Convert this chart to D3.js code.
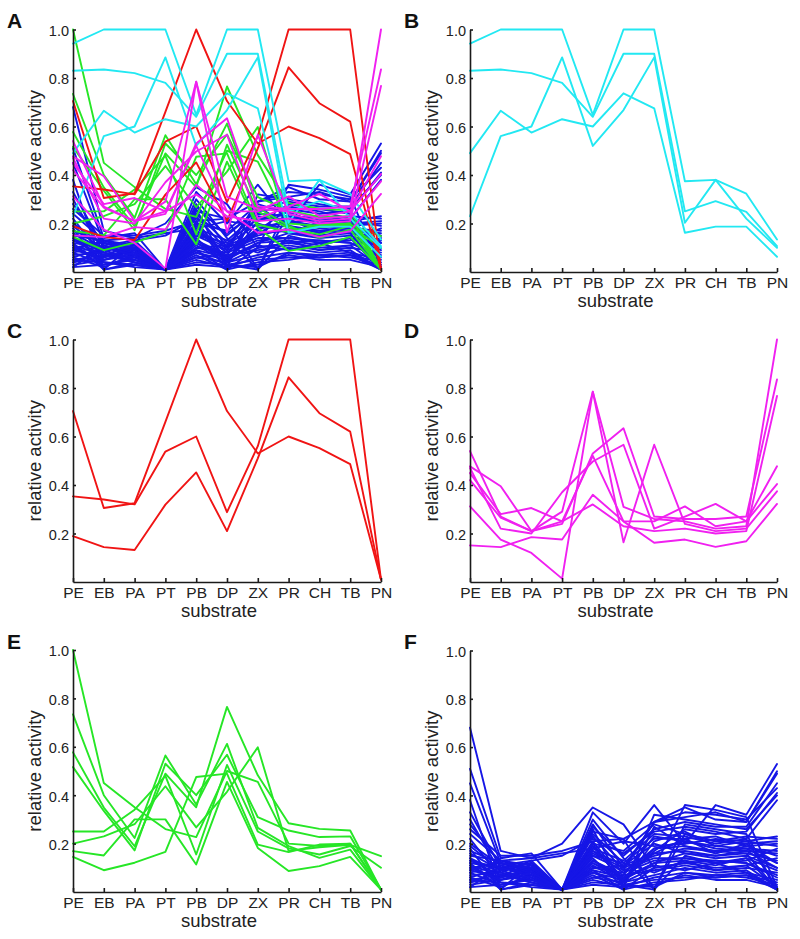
<!DOCTYPE html>
<html>
<head>
<meta charset="utf-8">
<script src="https://cdn.jsdelivr.net/npm/d3@7"></script>
<style>
  body { margin: 0; background: #fff; }
  svg { display: block; }
</style>
</head>
<body>
<svg id="chart" width="800" height="939"></svg>
<script>
// ---------------- DATA ----------------
const substrates = ["PE","EB","PA","PT","PB","DP","ZX","PR","CH","TB","PN"];
const yTicks = [0.2, 0.4, 0.6, 0.8, 1.0];
const panelLabels = ["A","B","C","D","E","F"];
const yTitle = "relative activity";
const xTitle = "substrate";

// cyan cluster (panel B)
const cyanSeries = [
  [0.942, 1.0, 1.0, 1.0, 0.648, 1.0, 1.0, 0.374, 0.38, 0.323, 0.134],
  [0.83, 0.835, 0.82, 0.78, 0.64, 0.90, 0.90, 0.25, 0.292, 0.248, 0.107],
  [0.23, 0.56, 0.60, 0.885, 0.52, 0.668, 0.885, 0.203, 0.38, 0.22, 0.10],
  [0.49, 0.665, 0.575, 0.63, 0.60, 0.737, 0.675, 0.162, 0.187, 0.187, 0.063]
];

// red cluster (panel C)
const redSeries = [
  [0.705, 0.305, 0.325, 0.66, 1.0, 0.705, 0.53, 0.60, 0.552, 0.486, 0.01],
  [0.353, 0.34, 0.32, 0.538, 0.60, 0.288, 0.56, 1.0, 1.0, 1.0, 0.01],
  [0.189, 0.144, 0.132, 0.319, 0.452, 0.21, 0.51, 0.844, 0.696, 0.62, 0.01]
];

// magenta cluster (panel D)
const magentaSeries = [
  [0.54, 0.27, 0.21, 0.29, 0.785, 0.31, 0.26, 0.25, 0.22, 0.23, 1.0],
  [0.477, 0.395, 0.21, 0.24, 0.53, 0.634, 0.27, 0.26, 0.26, 0.27, 0.835],
  [0.449, 0.28, 0.305, 0.25, 0.32, 0.23, 0.21, 0.22, 0.20, 0.21, 0.767],
  [0.47, 0.22, 0.20, 0.37, 0.497, 0.566, 0.22, 0.27, 0.322, 0.25, 0.404],
  [0.42, 0.265, 0.21, 0.25, 0.52, 0.25, 0.25, 0.312, 0.23, 0.25, 0.477],
  [0.312, 0.175, 0.12, 0.014, 0.785, 0.164, 0.566, 0.24, 0.21, 0.22, 0.374],
  [0.151, 0.144, 0.185, 0.175, 0.36, 0.25, 0.162, 0.175, 0.145, 0.168, 0.322]
];

// green cluster (panel E)
const greenSeries = [
  [1.0, 0.45, 0.35, 0.26, 0.227, 0.50, 0.455, 0.20, 0.19, 0.20, 0.01],
  [0.734, 0.40, 0.223, 0.564, 0.362, 0.612, 0.265, 0.19, 0.141, 0.175, 0.01],
  [0.577, 0.349, 0.189, 0.489, 0.35, 0.765, 0.482, 0.284, 0.261, 0.254, 0.01],
  [0.516, 0.335, 0.172, 0.53, 0.40, 0.567, 0.309, 0.254, 0.227, 0.23, 0.01],
  [0.25, 0.25, 0.34, 0.48, 0.155, 0.525, 0.25, 0.18, 0.155, 0.19, 0.10],
  [0.20, 0.23, 0.28, 0.437, 0.267, 0.414, 0.598, 0.17, 0.185, 0.195, 0.148],
  [0.145, 0.09, 0.121, 0.166, 0.475, 0.489, 0.196, 0.165, 0.196, 0.20, 0.01],
  [0.169, 0.151, 0.30, 0.30, 0.114, 0.455, 0.182, 0.087, 0.107, 0.145, 0.01]
];

// blue cluster (panel F)
const blueSeries = [
  [0.68, 0.17, 0.14, 0.20, 0.35, 0.28, 0.10, 0.36, 0.34, 0.31, 0.02],
  [0.51, 0.14, 0.16, 0.01, 0.33, 0.20, 0.36, 0.20, 0.36, 0.32, 0.53],
  [0.45, 0.12, 0.10, 0.01, 0.28, 0.10, 0.29, 0.35, 0.30, 0.29, 0.50],
  [0.38, 0.01, 0.12, 0.01, 0.25, 0.22, 0.29, 0.33, 0.32, 0.30, 0.43],
  [0.33, 0.10, 0.08, 0.01, 0.26, 0.02, 0.32, 0.30, 0.28, 0.26, 0.40],
  [0.30, 0.08, 0.13, 0.15, 0.22, 0.16, 0.25, 0.27, 0.25, 0.22, 0.38],
  [0.26, 0.15, 0.15, 0.17, 0.21, 0.22, 0.01, 0.24, 0.21, 0.23, 0.22],
  [0.22, 0.06, 0.09, 0.01, 0.19, 0.04, 0.21, 0.25, 0.19, 0.21, 0.19],
  [0.20, 0.11, 0.06, 0.01, 0.24, 0.12, 0.22, 0.22, 0.23, 0.19, 0.20],
  [0.18, 0.01, 0.04, 0.01, 0.17, 0.08, 0.18, 0.21, 0.18, 0.17, 0.16],
  [0.16, 0.09, 0.11, 0.01, 0.14, 0.02, 0.27, 0.19, 0.16, 0.20, 0.12],
  [0.15, 0.13, 0.09, 0.01, 0.12, 0.06, 0.16, 0.17, 0.15, 0.16, 0.01],
  [0.14, 0.05, 0.07, 0.01, 0.10, 0.11, 0.20, 0.16, 0.14, 0.15, 0.10],
  [0.13, 0.07, 0.05, 0.01, 0.20, 0.03, 0.01, 0.15, 0.12, 0.13, 0.18],
  [0.12, 0.10, 0.12, 0.01, 0.15, 0.09, 0.14, 0.14, 0.13, 0.12, 0.06],
  [0.11, 0.04, 0.03, 0.01, 0.08, 0.05, 0.12, 0.13, 0.11, 0.14, 0.01],
  [0.10, 0.12, 0.08, 0.01, 0.09, 0.01, 0.10, 0.12, 0.10, 0.11, 0.14],
  [0.09, 0.06, 0.10, 0.01, 0.06, 0.07, 0.09, 0.11, 0.09, 0.10, 0.08],
  [0.08, 0.03, 0.06, 0.01, 0.11, 0.04, 0.07, 0.10, 0.08, 0.09, 0.01],
  [0.07, 0.08, 0.04, 0.01, 0.05, 0.02, 0.06, 0.08, 0.07, 0.08, 0.05],
  [0.06, 0.02, 0.07, 0.01, 0.04, 0.03, 0.05, 0.06, 0.06, 0.07, 0.01],
  [0.05, 0.04, 0.02, 0.01, 0.07, 0.01, 0.04, 0.05, 0.07, 0.06, 0.03],
  [0.04, 0.09, 0.05, 0.01, 0.13, 0.06, 0.11, 0.09, 0.12, 0.08, 0.01],
  [0.03, 0.05, 0.09, 0.01, 0.16, 0.10, 0.15, 0.18, 0.17, 0.18, 0.12],
  [0.02, 0.11, 0.07, 0.01, 0.18, 0.13, 0.24, 0.23, 0.20, 0.22, 0.01],
  [0.12, 0.01, 0.03, 0.01, 0.21, 0.05, 0.17, 0.26, 0.24, 0.25, 0.41],
  [0.19, 0.09, 0.12, 0.01, 0.27, 0.15, 0.26, 0.29, 0.27, 0.27, 0.45],
  [0.24, 0.13, 0.11, 0.01, 0.23, 0.09, 0.29, 0.31, 0.33, 0.29, 0.49],
  [0.09, 0.13, 0.14, 0.16, 0.18, 0.21, 0.19, 0.20, 0.22, 0.21, 0.23],
  [0.14, 0.08, 0.06, 0.01, 0.15, 0.12, 0.08, 0.13, 0.09, 0.11, 0.02],
  [0.06, 0.10, 0.08, 0.01, 0.10, 0.08, 0.13, 0.14, 0.12, 0.14, 0.09],
  [0.11, 0.07, 0.04, 0.01, 0.08, 0.03, 0.02, 0.08, 0.06, 0.07, 0.04],
  [0.17, 0.12, 0.09, 0.01, 0.13, 0.07, 0.23, 0.21, 0.19, 0.18, 0.17],
  [0.04, 0.06, 0.10, 0.01, 0.06, 0.04, 0.10, 0.12, 0.13, 0.12, 0.07],
  [0.08, 0.11, 0.13, 0.01, 0.12, 0.05, 0.18, 0.19, 0.17, 0.16, 0.13],
  [0.28, 0.12, 0.10, 0.01, 0.30, 0.14, 0.01, 0.28, 0.26, 0.24, 0.01],
  [0.02, 0.03, 0.05, 0.01, 0.03, 0.02, 0.03, 0.07, 0.05, 0.05, 0.02],
  [0.13, 0.10, 0.07, 0.01, 0.20, 0.17, 0.28, 0.24, 0.21, 0.20, 0.21],
  [0.05, 0.07, 0.11, 0.01, 0.09, 0.06, 0.12, 0.16, 0.15, 0.17, 0.10],
  [0.10, 0.05, 0.08, 0.01, 0.17, 0.11, 0.16, 0.22, 0.16, 0.19, 0.15]
];

// ---------------- STYLE / LAYOUT ----------------
const COLORS = { cyan: "#22e8f2", red: "#f01414", magenta: "#f020f0", green: "#26e626", blue: "#1616e6" };
const FONT = "'Liberation Sans', Arial, Helvetica, sans-serif";

const groups = {
  blue:    { data: blueSeries,    color: COLORS.blue },
  green:   { data: greenSeries,   color: COLORS.green },
  red:     { data: redSeries,     color: COLORS.red },
  cyan:    { data: cyanSeries,    color: COLORS.cyan },
  magenta: { data: magentaSeries, color: COLORS.magenta }
};

const panels = [
  { label: panelLabels[0], groups: ["blue","green","red","cyan","magenta"], left: 73,  right: 381, top: 29.5,  bottom: 272 },
  { label: panelLabels[1], groups: ["cyan"],    left: 470, right: 777, top: 29.5,  bottom: 272 },
  { label: panelLabels[2], groups: ["red"],     left: 73,  right: 381, top: 339.5, bottom: 582 },
  { label: panelLabels[3], groups: ["magenta"], left: 470, right: 777, top: 339.5, bottom: 582 },
  { label: panelLabels[4], groups: ["green"],   left: 73,  right: 381, top: 650,   bottom: 892 },
  { label: panelLabels[5], groups: ["blue"],    left: 470, right: 777, top: 650.5, bottom: 892 }
];

// ---------------- DRAW ----------------
const svg = d3.select("#chart");

panels.forEach(p => {
  const x = d3.scalePoint().domain(substrates).range([p.left, p.right]);
  const y = d3.scaleLinear().domain([0, 1]).range([p.bottom, p.top]);
  const g = svg.append("g");

  const line = d3.line()
    .x((d, i) => x(substrates[i]))
    .y(d => y(d));

  p.groups.forEach(key => {
    const grp = groups[key];
    g.append("g")
      .selectAll("path")
      .data(grp.data)
      .join("path")
      .attr("d", line)
      .attr("fill", "none")
      .attr("stroke", grp.color)
      .attr("stroke-width", 1.9)
      .attr("stroke-linejoin", "round")
      .attr("stroke-linecap", "round");
  });

  // y axis
  const yAxis = d3.axisLeft(y)
    .tickValues(yTicks)
    .tickFormat(d3.format(".1f"))
    .tickSizeInner(-3)
    .tickSizeOuter(0)
    .tickPadding(4);
  const ya = g.append("g")
    .attr("transform", `translate(${p.left},0)`)
    .call(yAxis)
    .attr("font-size", 14.5)
    .attr("font-family", FONT)
    .style("color", "#1a1a1a");
  ya.selectAll("path, line").attr("stroke-width", 1.6);
  ya.selectAll("text").attr("dy", "0.4em").attr("fill", "#222");

  // x axis
  const xAxis = d3.axisBottom(x)
    .tickSizeInner(-4)
    .tickSizeOuter(0)
    .tickPadding(5);
  const xa = g.append("g")
    .attr("transform", `translate(0,${p.bottom})`)
    .call(xAxis)
    .attr("font-size", 15.5)
    .attr("font-family", FONT)
    .style("color", "#1a1a1a");
  xa.selectAll("path, line").attr("stroke-width", 1.6);
  xa.selectAll("text").attr("fill", "#222");

  // axis titles
  g.append("text")
    .attr("transform", `translate(${p.left - 32},${(p.top + p.bottom) / 2}) rotate(-90)`)
    .attr("text-anchor", "middle")
    .attr("font-family", FONT)
    .attr("font-size", 18.5)
    .attr("fill", "#222")
    .text(yTitle);

  g.append("text")
    .attr("x", (p.left + p.right) / 2 - 8)
    .attr("y", p.bottom + 35)
    .attr("text-anchor", "middle")
    .attr("font-family", FONT)
    .attr("font-size", 18.5)
    .attr("fill", "#222")
    .text(xTitle);

  // panel letter
  g.append("text")
    .attr("x", p.left - 66)
    .attr("y", p.top - 1.5)
    .attr("font-family", FONT)
    .attr("font-weight", "bold")
    .attr("font-size", 21)
    .attr("fill", "#111")
    .text(p.label);
});
</script>
</body>
</html>
